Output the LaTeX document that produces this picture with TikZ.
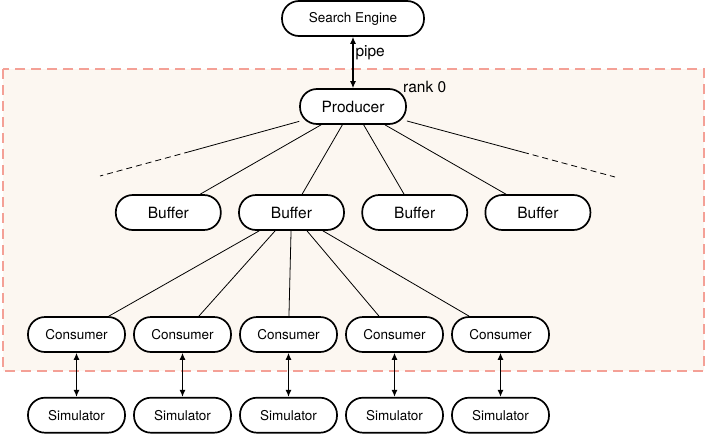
\documentclass[tikz,border=0pt]{standalone}
\usepackage{fontspec}
\setmainfont{TeX Gyre Heros}
\usetikzlibrary{arrows.meta,positioning}
\definecolor{RankFill}{HTML}{FCF7F1}
\definecolor{RankEdge}{HTML}{F4A096}

\begin{document}
\begin{tikzpicture}[
  x=1pt, y=-1pt,
  node distance=16.5pt,
  proc/.style={draw, line width=1.7pt, fill=white, rounded corners=17pt, minimum height=35pt,
    inner sep=0pt, font=\fontsize{15.5}{18}\selectfont},
  smallproc/.style={proc, minimum width=97pt, font=\fontsize{13.5}{16}\selectfont},
  bufbox/.style={proc, minimum width=105pt},
  link/.style={line width=0.8pt},
  biarrow/.style={{Latex[length=7pt,width=6pt]}-{Latex[length=7pt,width=6pt]}, line width=1.1pt}
]
  \useasboundingbox (0,0) rectangle (706,434);
  % rank 0 region
  \draw[RankEdge, fill=RankFill, line width=1.8pt, dash pattern=on 10pt off 6pt] (3,69) rectangle (704,371);

  \node[proc, minimum width=142pt, font=\fontsize{13.5}{16}\selectfont] (se) at (353,18.5) {Search Engine};
  \node[proc, minimum width=106pt] (prod) at (353,106.5) {Producer};
  \node[anchor=west, inner sep=0pt, font=\fontsize{15.5}{18}\selectfont] (rank) at (403,87) {rank 0};
  \draw[biarrow] (se) -- (prod) node[pos=0.3, right, inner sep=2pt, font=\fontsize{15.5}{18}\selectfont] (pipelbl) {pipe};

  % buffers
  \node[bufbox] (buf2) at (291.5,212.5) {Buffer};
  \node[bufbox, left=of buf2] (buf1) {Buffer};
  \node[bufbox, right=of buf2] (buf3) {Buffer};
  \node[bufbox, right=of buf3] (buf4) {Buffer};

  \coordinate (lmid) at (190,151.5);
  \coordinate (lend) at (100,176);
  \coordinate (rmid) at (523,152.2);
  \coordinate (rend) at (615,177);
  \draw[link] (prod) -- (lmid);
  \draw[link, dash pattern=on 6pt off 4pt] (lmid) -- (lend);
  \draw[link] (prod) -- (rmid);
  \draw[link, dash pattern=on 6pt off 4pt] (rmid) -- (rend);
  \draw[link] (prod) -- (buf1);
  \draw[link] (prod) -- (buf2);
  \draw[link] (prod) -- (buf3);
  \draw[link] (prod) -- (buf4);

  % consumers
  \node[smallproc] (con1) at (76.5,334.5) {Consumer};
  \node[smallproc, right=7.3pt of con1] (con2) {Consumer};
  \node[smallproc, right=7.3pt of con2] (con3) {Consumer};
  \node[smallproc, right=7.3pt of con3] (con4) {Consumer};
  \node[smallproc, right=7.3pt of con4] (con5) {Consumer};
  \draw[link] (buf2) -- (con1);
  \draw[link] (buf2) -- (con2);
  \draw[link] (buf2) -- (con3);
  \draw[link] (buf2) -- (con4);
  \draw[link] (buf2) -- (con5);

  % simulators
  \node[smallproc, below=44pt of con1] (sim1) {Simulator};
  \node[smallproc, below=44pt of con2] (sim2) {Simulator};
  \node[smallproc, below=44pt of con3] (sim3) {Simulator};
  \node[smallproc, below=44pt of con4] (sim4) {Simulator};
  \node[smallproc, below=44pt of con5] (sim5) {Simulator};
  \draw[biarrow] (con1) -- (sim1);
  \draw[biarrow] (con2) -- (sim2);
  \draw[biarrow] (con3) -- (sim3);
  \draw[biarrow] (con4) -- (sim4);
  \draw[biarrow] (con5) -- (sim5);
\end{tikzpicture}
\end{document}
